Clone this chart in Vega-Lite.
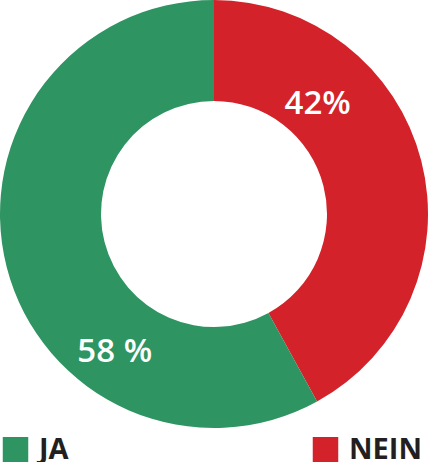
{
  "$schema": "https://vega.github.io/schema/vega-lite/v6.json",
  "width": 428,
  "height": 428,
  "autosize": {"type": "none"},
  "padding": {"left": 0, "top": 0, "right": 0, "bottom": 34},
  "background": "white",
  "data": {"values": [
    {"antwort": "NEIN", "anteil": 42, "label": "42%", "ord": 1},
    {"antwort": "JA", "anteil": 58, "label": "58 %", "ord": 2}
  ]},
  "layer": [
    {
      "mark": {"type": "arc", "innerRadius": 113, "outerRadius": 214},
      "encoding": {
        "theta": {"field": "anteil", "type": "quantitative", "stack": true},
        "order": {"field": "ord", "type": "quantitative"},
        "color": {
          "field": "antwort", "type": "nominal",
          "scale": {"domain": ["JA", "NEIN"], "range": ["#2e9461", "#d3222a"]},
          "legend": {
            "title": null, "orient": "none", "legendX": 1, "legendY": 435,
            "direction": "horizontal", "symbolType": "square", "symbolSize": 650,
            "symbolStrokeWidth": 0, "symbolOpacity": 1,
            "labelFontSize": 29, "labelFont": "Open Sans", "labelFontWeight": 700,
            "labelColor": "#231f20", "labelOffset": 9, "columnPadding": 242
          }
        }
      }
    },
    {
      "transform": [
        {"stack": "anteil", "groupby": [], "sort": [{"field": "ord"}], "as": ["s0", "s1"]},
        {"filter": "datum.antwort === 'NEIN'"}
      ],
      "mark": {"type": "text", "radius": 151, "thetaOffset": 0.757, "fill": "white", "fontSize": 33, "font": "Open Sans", "fontWeight": 600},
      "encoding": {
        "theta": {"field": "s0", "type": "quantitative", "stack": null, "scale": {"domain": [0, 100], "range": [0, 6.2832]}},
        "text": {"field": "label"}
      }
    },
    {
      "transform": [
        {"stack": "anteil", "groupby": [], "sort": [{"field": "ord"}], "as": ["s0", "s1"]},
        {"filter": "datum.antwort === 'JA'"}
      ],
      "mark": {"type": "text", "radius": 170, "thetaOffset": 1.126, "fill": "white", "fontSize": 33, "font": "Open Sans", "fontWeight": 600},
      "encoding": {
        "theta": {"field": "s0", "type": "quantitative", "stack": null, "scale": {"domain": [0, 100], "range": [0, 6.2832]}},
        "text": {"field": "label"}
      }
    }
  ],
  "resolve": {"scale": {"theta": "independent"}},
  "config": {"view": {"stroke": null}}
}
